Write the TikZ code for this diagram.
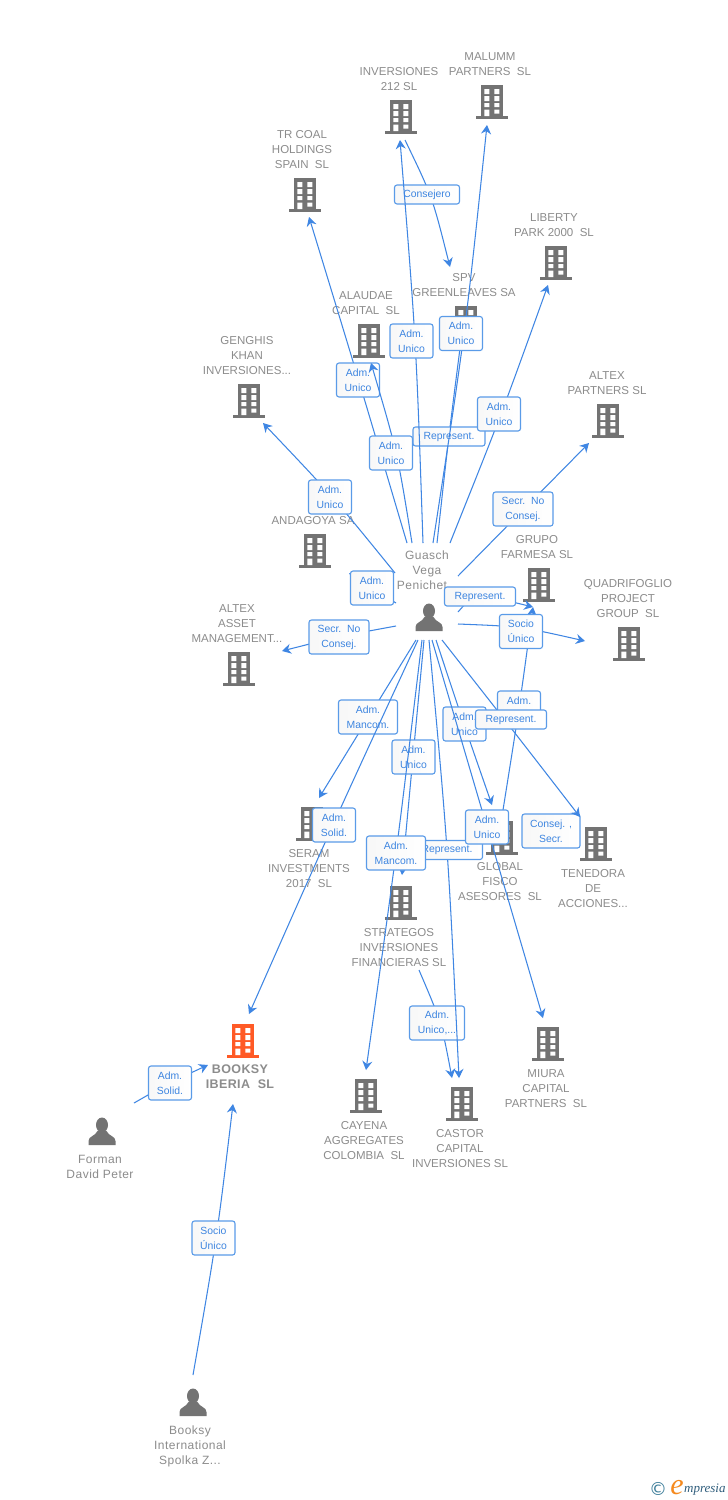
\documentclass[tikz,border=0pt]{standalone}
\usepackage{fontspec}
\setmainfont{Liberation Sans}
\newfontfamily\logofont{Liberation Serif}
\newfontfamily\symfont{DejaVu Sans}
\usetikzlibrary{arrows.meta,calc}
\definecolor{linkblue}{HTML}{3F86E3}
\definecolor{boxblue}{HTML}{5A9BE8}
\definecolor{lbltext}{HTML}{3D85E0}
\definecolor{nametext}{HTML}{8C8C8C}
\definecolor{icongray}{HTML}{737373}
\definecolor{mainorange}{HTML}{FF5A26}
\definecolor{logoteal}{HTML}{3F7F9B}
\definecolor{logoorange}{HTML}{F58A1F}
\definecolor{logoblue}{HTML}{2F5D7C}
\tikzset{
  x=1pt,y=-1pt,
  link/.style={draw=linkblue,line width=1.05pt,-{Stealth[length=9pt,width=10pt,inset=3pt]}},
  lbl/.style={draw=boxblue,line width=1.1pt,rounded corners=2.5pt,left color=black!3,right color=white,
    text=lbltext,align=center,inner sep=0pt,font=\fontsize{10.4}{15}\selectfont},
  nametxt/.style={text=nametext,align=center,inner sep=0pt,yshift=-1pt,font=\fontsize{11.5}{15}\selectfont},
  persontxt/.style={text=nametext,align=center,inner sep=0pt,font=\fontsize{12}{15}\selectfont\addfontfeatures{LetterSpace=4}},
  building/.pic={
    \fill[pic actions] (-11,0) rectangle (11,31);
    \fill[pic actions] (-16,31) rectangle (16,33.5);
    \fill[white] (-7.7,4) rectangle (-2.7,9) (2.3,4) rectangle (7.3,9)
      (-7.7,11) rectangle (-2.7,16) (2.3,11) rectangle (7.3,16)
      (-7.7,18) rectangle (-2.7,22) (2.3,18) rectangle (7.3,22)
      (-7.7,24.5) rectangle (-2.7,31) (2.3,24.5) rectangle (7.3,28.5);
  },
  person/.pic={
    \fill[pic actions] (0,7) ellipse [x radius=6,y radius=7.5];
    \fill[pic actions] (-13.5,27) -- (-13.5,23) .. controls (-13.5,18) and (-7,18.5) .. (-4.5,13)
      -- (4.5,13) .. controls (7,18.5) and (13.5,18) .. (13.5,23) -- (13.5,27) -- cycle;
  }
}
% id, start, curve mid, end, box position, box width, box height, text
\newcommand\lnk[8]{%
  \coordinate (a#1) at (#2);
  \coordinate (m#1) at (#3);
  \coordinate (b#1) at (#4);
  \draw[link] (a#1) .. controls ($1.3333*(m#1)-0.16667*(a#1)-0.16667*(b#1)$) .. (b#1);
  \node[lbl,minimum width=#6,minimum height=#7] (box#1) at (#5) {#8};
}
\newcommand\bld[6]{% id, icon x, icon top, label x, label y, text
  \pic[icongray] at (#2,#3) {building};
  \node[nametxt] (#1) at (#4,#5) {#6};
}
\newcommand\prs[6]{%
  \pic[icongray] at (#2,#3) {person};
  \node[persontxt] (#1) at (#4,#5) {#6};
}
\begin{document}
\begin{tikzpicture}
\useasboundingbox (0,0) rectangle (728,1500);
\fill[white] (0,0) rectangle (728,1500);
% companies
\bld{malumm}{492}{85}{490}{63.5}{MALUMM\\PARTNERS\ \ SL}
\bld{inv}{401}{100}{399}{78.5}{INVERSIONES\\212 SL}
\bld{trcoal}{305}{178}{302}{149}{TR COAL\\HOLDINGS\\SPAIN\ \ SL}
\bld{liberty}{556}{246}{554}{224.5}{LIBERTY\\PARK 2000\ \ SL}
\bld{spv}{466}{306}{464}{284.5}{SPV\\GREENLEAVES SA}
\bld{alaudae}{369}{324}{366}{302.5}{ALAUDAE\\CAPITAL\ \ SL}
\bld{genghis}{249}{384}{247}{355}{GENGHIS\\KHAN\\INVERSIONES...}
\bld{altexp}{608}{404}{607}{382.5}{ALTEX\\PARTNERS SL}
\bld{andagoya}{315}{534}{313}{520}{ANDAGOYA SA}
\bld{grupo}{539}{568}{537}{546.5}{GRUPO\\FARMESA SL}
\bld{quadri}{629}{627}{628}{598}{QUADRIFOGLIO\\PROJECT\\GROUP\ \ SL}
\bld{altexa}{239}{652}{237}{623}{ALTEX\\ASSET\\MANAGEMENT...}
\bld{seram}{312}{807}{309}{868}{SERAM\\INVESTMENTS\\2017\ \ SL}
\bld{global}{502}{821}{500}{881}{GLOBAL\\FISCO\\ASESORES\ \ SL}
\bld{tenedora}{596}{827}{593}{888}{TENEDORA\\DE\\ACCIONES...}
\bld{strategos}{401}{886}{399}{947}{STRATEGOS\\INVERSIONES\\FINANCIERAS SL}
\bld{cayena}{366}{1079}{364}{1140}{CAYENA\\AGGREGATES\\COLOMBIA\ \ SL}
\bld{castor}{462}{1087}{460}{1148}{CASTOR\\CAPITAL\\INVERSIONES SL}
\bld{miura}{548}{1027}{546}{1088}{MIURA\\CAPITAL\\PARTNERS\ \ SL}
\pic[mainorange] at (243,1024) {building};
\node[text=nametext,align=center,inner sep=0pt,font=\fontsize{12.5}{15}\selectfont\bfseries\addfontfeatures{LetterSpace=3}] (booksy) at (240,1076.5) {BOOKSY\\IBERIA\ \ SL};
% persons
\prs{guasch}{429}{604}{427}{570}{Guasch\\Vega\\Penichet\hspace*{10pt}}
\prs{forman}{102}{1118}{100}{1166.5}{Forman\\David Peter}
\prs{intl}{193}{1389}{190}{1446}{Booksy\\International\\Spolka Z...}
% connectors with their labels
\lnk{cons}{405,140}{431,198}{450,267}{427,194.5}{65}{19}{Consejero}
\lnk{tr}{407,543}{358,378}{309,217}{358,380}{43}{34}{Adm.\\Unico}
\lnk{rspv}{437,543}{449,436}{463,325}{449,436.5}{72}{19}{Represent.}
\lnk{ala}{412,543}{396,453}{371,363}{391,453}{43}{34}{Adm.\\Unico}
\lnk{inv}{423,543}{415,341}{400,140}{411.5,341}{43}{34}{Adm.\\Unico}
\lnk{mal}{433,543}{464,333}{487,125}{461,333.5}{43}{34}{Adm.\\Unico}
\lnk{lib}{450,543}{501,414}{548,285}{499,414}{43}{34}{Adm.\\Unico}
\lnk{altp}{458,576}{524,509}{589,443}{523,509}{60}{34}{Secr.\ \ No\\Consej.}
\lnk{and}{396,603}{372,588}{349,573}{372,588}{43}{34}{Adm.\\Unico}
\lnk{gen}{395,573}{332,497}{263,423}{330,497}{43}{34}{Adm.\\Unico}
\lnk{alta}{396,626}{339,637}{282,651}{339,637}{60}{34}{Secr.\ \ No\\Consej.}
\lnk{rgr}{458,612}{480,597}{533,607}{480,596.5}{71}{19}{Represent.}
\lnk{gg}{503,810}{519,708}{533,607}{519,708}{43}{34}{Adm.\\Unico}
\lnk{quad}{458,624}{521,628}{585,641}{521,631.5}{43}{34}{Socio\\Único}
\node[lbl,minimum width=58,minimum height=34] (boxcs) at (551,831) {Consej. ,\\Secr.};
\lnk{ser}{416,640}{368,717}{319,798}{368,717}{59}{34}{Adm.\\Mancom.}
\lnk{boo}{418,640}{333,825}{249,1014}{334,825}{43}{34}{Adm.\\Solid.}
\lnk{stca}{419,970}{440,1023}{452,1078}{437,1023}{55}{34}{Adm.\\Unico,...}
\lnk{str}{424,640}{413,757}{402,875}{413.5,757}{43}{34}{Adm.\\Unico}
\lnk{glo}{436,640}{464,724}{492,805}{464.5,724}{43}{34}{Adm.\\Unico}
\lnk{cas}{429,640}{447,850}{459,1078}{447,850}{71}{19}{Represent.}
\lnk{cay}{422,640}{396,853}{366,1070}{396,853}{59}{34}{Adm.\\Mancom.}
\lnk{mir}{432,640}{487,827}{543,1018}{487,827}{43}{34}{Adm.\\Unico}
\lnk{ten}{442,640}{511,728}{580,817}{511,719.5}{71}{19}{Represent.}
\lnk{for}{134,1103}{170,1083}{208,1065}{170,1083}{43}{34}{Adm.\\Solid.}
\lnk{int}{193,1375}{216,1238}{233,1104}{213.5,1238}{43}{34}{Socio\\Único}
% logo
\node[text=logoteal,inner sep=0pt,font=\fontsize{18}{18}\selectfont\symfont] (copy) at (658,1489) {©};
\node[text=logoorange,inner sep=0pt,font=\fontsize{30}{30}\selectfont\logofont\itshape] (loge) at (677,1488) {e};
\node[text=logoblue,inner sep=0pt,anchor=west,font=\fontsize{13}{13}\selectfont\logofont\itshape] (logt) at (684,1490) {mpresia};
\end{tikzpicture}
\end{document}
